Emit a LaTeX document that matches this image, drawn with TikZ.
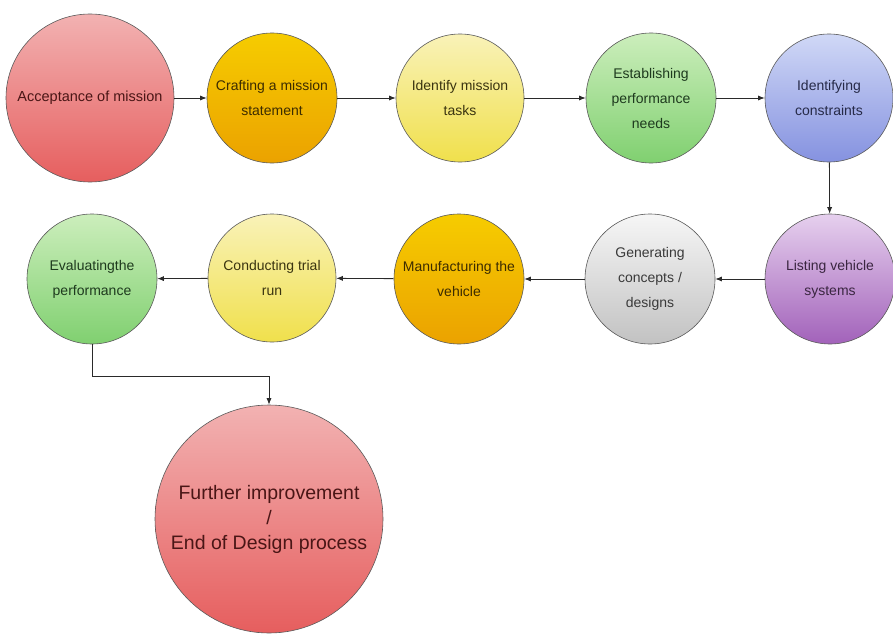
\documentclass[tikz,border=0pt]{standalone}
\usepackage{fontspec}
\setmainfont{Liberation Sans}
\usetikzlibrary{arrows.meta}
\definecolor{redT}{HTML}{F2B2B2}\definecolor{redB}{HTML}{E65E5E}
\definecolor{orT}{HTML}{F6CC00}\definecolor{orB}{HTML}{EBA200}
\definecolor{yeT}{HTML}{F9F2B8}\definecolor{yeB}{HTML}{F0E04C}
\definecolor{grT}{HTML}{CCEEBC}\definecolor{grB}{HTML}{80D070}
\definecolor{blT}{HTML}{D0D8F6}\definecolor{blB}{HTML}{8592E0}
\definecolor{gyT}{HTML}{F6F6F6}\definecolor{gyB}{HTML}{C2C2C2}
\definecolor{puT}{HTML}{E6D0EE}\definecolor{puB}{HTML}{A262BA}
\definecolor{edge}{HTML}{5A5A5A}
\definecolor{arrcol}{HTML}{2A2A2A}
\definecolor{txred}{HTML}{4A1616}
\definecolor{txor}{HTML}{3C2C00}
\definecolor{txye}{HTML}{3A3410}
\definecolor{txgr}{HTML}{1E3A1E}
\definecolor{txbl}{HTML}{262A48}
\definecolor{txgy}{HTML}{3A3A3A}
\definecolor{txpu}{HTML}{3A2640}
\begin{document}
\begin{tikzpicture}[x=1pt,y=-1pt,
  stage/.style={circle, draw=edge, line width=0.6pt, inner sep=0pt,
    minimum size=130pt, align=center, font=\fontsize{14}{25}\selectfont},
  redfill/.style={top color=redT, bottom color=redB, text=txred},
  orfill/.style={top color=orT, bottom color=orB, text=txor},
  yefill/.style={top color=yeT, bottom color=yeB, text=txye},
  grfill/.style={top color=grT, bottom color=grB, text=txgr},
  blfill/.style={top color=blT, bottom color=blB, text=txbl},
  gyfill/.style={top color=gyT, bottom color=gyB, text=txgy},
  pufill/.style={top color=puT, bottom color=puB, text=txpu},
  arr/.style={draw=arrcol, line width=0.8pt, -{Latex[length=6.5pt,width=5pt]}}]
\useasboundingbox (0,0) rectangle (893,634);
% row 1
\node[stage, redfill, minimum size=168pt, font=\fontsize{14.5}{25}\selectfont] (a1) at (90,98) {Acceptance of mission};
\node[stage, orfill] (a2) at (272,98) {Crafting a mission\\statement};
\node[stage, yefill, minimum size=128pt] (a3) at (460,98) {Identify mission\\tasks};
\node[stage, grfill] (a4) at (651,98) {Establishing\\performance\\needs};
\node[stage, blfill, minimum size=128pt] (a5) at (829,98) {Identifying\\constraints};
% row 2
\node[stage, pufill] (b5) at (830,279) {Listing vehicle\\systems};
\node[stage, gyfill] (b4) at (650,279) {Generating\\concepts /\\designs};
\node[stage, orfill] (b3) at (459,279) {Manufacturing the\\vehicle};
\node[stage, yefill, minimum size=128pt] (b2) at (272,278) {Conducting trial\\run};
\node[stage, grfill] (b1) at (92,279) {Evaluatingthe\\performance};
% final
\node[stage, redfill, minimum size=228pt, font=\fontsize{19.5}{25}\selectfont] (c) at (269,519) {Further improvement\\/\\End of Design process};
% connectors
\draw[arr] (a1) -- (a2);
\draw[arr] (a2) -- (a3);
\draw[arr] (a3) -- (a4);
\draw[arr] (a4) -- (a5);
\draw[arr] (a5) -- (b5);
\draw[arr] (b5) -- (b4);
\draw[arr] (b4) -- (b3);
\draw[arr] (b3) -- (b2);
\draw[arr] (b2) -- (b1);
\draw[arr] (b1.south) -- ++(0,32) -| (c.north);
\end{tikzpicture}
\end{document}
